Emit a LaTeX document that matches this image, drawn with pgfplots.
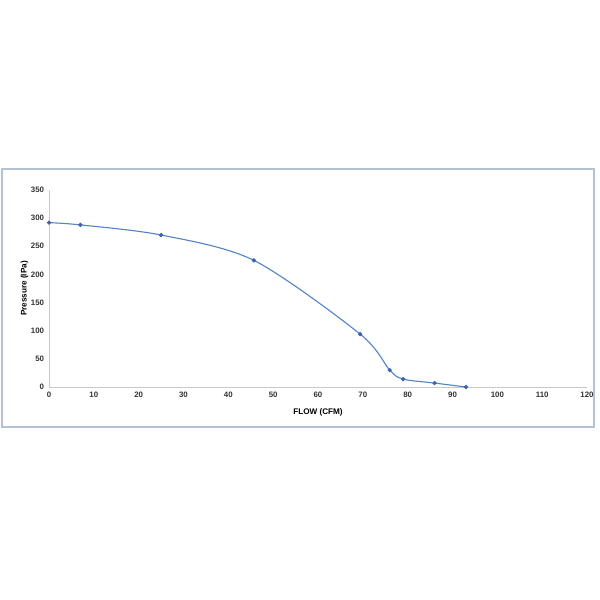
\documentclass[border=0pt]{standalone}
\usepackage{pgfplots}
\pgfplotsset{compat=1.18}
\usepackage{fontspec}
\setmainfont{Liberation Sans}
\definecolor{lineBlue}{HTML}{5585C4}
\definecolor{markBlue}{HTML}{3C66A8}
\definecolor{frameGray}{HTML}{B4C2D6}
\definecolor{axisGray}{HTML}{C8C8C8}
\begin{document}
\begin{tikzpicture}
  % page is 15cm x 15cm (600 px -> 0.025cm each)
  \path (0,0) rectangle (15cm,15cm);
  \draw[frameGray, line width=0.9pt] (0.05cm,4.325cm) rectangle (14.85cm,10.775cm);
  \begin{axis}[
    at={(1.225cm,5.325cm)}, anchor=origin,
    scale only axis,
    width=13.45cm, height=4.925cm,
    xmin=0, xmax=120, ymin=0, ymax=350,
    xtick={0,10,...,120}, ytick={0,50,...,350},
    axis x line=bottom, axis y line=left,
    axis line style={draw=axisGray, line width=0.6pt, -},
    major tick length=0pt,
    tick label style={font=\fontsize{5.6}{6}\selectfont\bfseries, text=black!80},
    /pgf/number format/assume math mode=true,
    xlabel={FLOW (CFM)}, ylabel={Pressure (IPa)},
    label style={font=\fontsize{5.8}{6}\selectfont\bfseries},
    xlabel style={yshift=-1pt},
    ylabel style={yshift=-5pt},
    clip=false,
  ]
    \addplot[lineBlue, line width=0.8pt, smooth, tension=0.5,
             mark=*, mark size=1.1pt,
             mark options={fill=markBlue, draw=markBlue}]
      coordinates {
        (0,292) (7,288) (25,270) (45.7,225) (69.4,94)
        (76,30) (79,14) (86,7) (93,0)
      };
  \end{axis}
\end{tikzpicture}
\end{document}
